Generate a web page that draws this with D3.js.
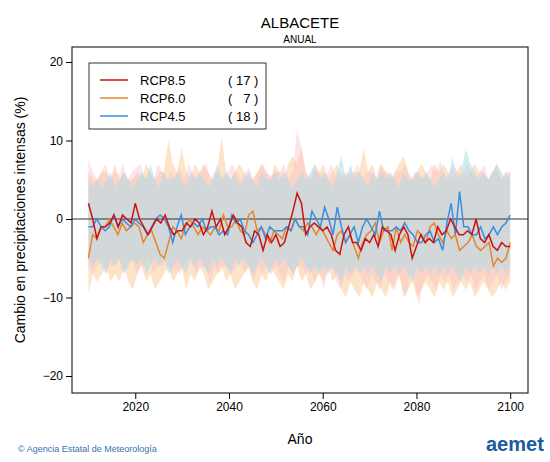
<!DOCTYPE html><html><head><meta charset="utf-8"><script src="https://cdn.jsdelivr.net/npm/d3@7"></script>
<style>body{margin:0;background:#fff}text{font-family:"Liberation Sans",Arial,sans-serif}</style></head><body><svg id="c" width="550" height="462"></svg><script>
const startYear=2010;
const rcp85=[2,0,-2.5,-1,-1,-0.5,0.5,-1,0.5,0,-0.5,2,0,-1,-2,-1,0,-0.5,0.5,-1,-2,-1.5,-1.5,-0.5,-1,0,-0.5,-2,-1,1,-1,0,-2,-1,0.5,-0.5,-1,-3,-3.5,-1.5,-2,-4,-2,-3,-2,-3.5,-3,-1,1,3.3,2,-2,-1,-0.5,-1,-1.5,-1,-2,-4,-4.5,-2,-1,-3,-3,-4,-2.5,-3,-2,-3.5,-1,-1.5,-2,-4,-2,-1,-2,-5,-3.5,-2,-3,-2.5,-3,-1,-2,-1.5,0,-1,-2,-2,-1.5,-2,0,-2.5,-3,-2,-3.5,-4,-3,-3.5,-3.5];
const rcp60=[-5,-2,-2.5,-1,-1,0,-1,-2,-0.5,-1.5,-1,-0.5,-1,-3,-2,-1.5,-3,-4.5,-5,-3,-1,-1.5,-2.5,-1,0,-1,-2,-1,-1.5,-2,-1,-1.5,0.5,-1,-1,0,-1.5,-2,0.5,1,-1.5,-1,-2,-3,-1.5,-2,-2.5,-1,-1.5,0,-1,-1.5,-0.5,-1,-2,-1,-2,-3,-4,-2,-1.5,-3,-2,-3.5,-5,-3,-2,-1.5,-0.5,-3,-1.5,-1,-4,-1,-3,-2,-3,-3.5,-1.5,-2,-3,-1,-0.5,-2,-3,-1.5,-2.5,-2,-4,-3.5,-3,-2,-3.5,-4,-3.5,-3,-6,-5,-5.5,-5,-3];
const rcp45=[-1,-1,0,-1,-1.5,-1,0.5,-1,0,-0.5,-1,0,-0.5,-1,-2,-1,0,0.5,0,-1,-3,-1,0.5,-2,-1,-0.5,-1,0,-1.5,-1,-1,-2,-1.5,-2,0.5,-0.5,0,-1.5,-2,-3,-2,-1,-2.5,-1,-1.5,-1.5,-1.5,-1,-1.5,0,-1,-1,-2,1,0,-1,1.5,0,-2,1.5,-1,-3,-2,-1,-3,-1,0,-1,-2,1,-1.5,-1.5,-1.5,-1,-1.5,-0.5,-1.5,-2,-3,-3,-2,-1.5,-3,-2.5,-4,-0.5,2,-2,3.5,-1,-1,-2,-2,-1,-2.5,-2,-1,-2,-1,-0.5,0.5];
const up85=[7.5,6,5,6,7,5,6,5.5,7,5,6,6.5,7,5,6,5,7,6,5,6,5,6.5,5,7,6,5,6,7,5,6,6,5,6,7,6,5,6,6.5,5,6,7,6,5.5,6,6,7,5,6,11.5,9,6,5,6,6,5,6,7,5,6,5.5,6,6,7,5,6,6,5,7,6,6,5,6,6,7,5,6,6,5,6,7,6,7.5,5,6,7,6,5,7,6,5,6,7,5,6,6,5,6,6];
const lo85=[-6,-7,-6,-5,-7,-6,-6,-5,-7,-6,-5,-7,-6,-6,-5,-7,-6,-6,-5,-7,-6,-7,-6,-5,-6,-7,-6,-6,-8,-6,-7,-6,-6,-7,-6,-5,-7,-6,-8,-6,-7,-6,-7,-6,-7,-8,-6,-7,-6,-6,-7,-6,-8,-6,-9,-7,-6,-8,-9,-7,-8,-7,-6,-8,-9,-7,-8,-9,-7,-8,-9,-7,-8,-10,-7,-8,-11,-8,-7,-8,-9,-7,-8,-7,-9,-8,-7,-8,-7,-9,-8,-7,-9,-8,-7,-9,-8,-7,-8,-7,-8];
const up60=[6,5,5,6,6,5,7,5,6,5,5,6,5,7,6,5,6,6,10,7,6,9,6,5,7,6,7,6,5,6,10.5,6,5,6,7,6,5,5,6,7,6,5,7,6,5,7,8,7,9,6,5,7,6,7,5,6,7,5,6,5,6,6,9,6,7,5,7,6,5,6,7,8,6,5,6,7,6,5,7,6,7,6,5,6,7,5,6,7,6,6,5,6,7,5,6,5,6];
const lo60=[-9.5,-7,-8,-7,-6,-8,-7,-8,-6,-8,-9,-7,-6,-8,-7,-9,-8,-7,-6,-8,-7,-6,-9,-7,-8,-6,-7,-9,-8,-7,-6,-8,-7,-9,-8,-7,-6,-8,-9,-7,-8,-6,-7,-8,-9,-7,-8,-6,-8,-7,-9,-8,-7,-8,-6,-8,-7,-9,-10,-8,-9,-10,-8,-9,-10,-8,-9,-10,-8,-9,-7,-10,-9,-8,-10,-9,-8,-9,-10,-8,-9,-8,-10,-9,-8,-9,-8,-10,-9,-8,-9,-10,-9,-8,-9,-8];
const up45=[5,4,5,4,5,6,4,5,6,5,4,5,6,5,7,5,4,6,5,5,6,5,4,6,5,6,5,4,5,7,5,6,5,6,4,5,6,5,4,6,5,5,6,5,6,5,4,5,6,5,6,7,5,6,5,4,6,8,5,7,5,6,5,4,6,5,6,5,6,5,4,6,5,5,6,5,6,5,4,5,6,5,8,5,6,9,7,6,5,6,5,6,7,6,5,6];
const lo45=[-5,-6,-5,-6,-7,-5,-6,-5,-7,-6,-5,-6,-5,-7,-6,-5,-6,-5,-7,-6,-5,-6,-7,-5,-6,-5,-6,-7,-5,-6,-5,-6,-7,-5,-6,-5,-6,-7,-6,-5,-6,-7,-5,-6,-5,-6,-7,-6,-5,-6,-7,-6,-7,-6,-7,-6,-7,-8,-6,-7,-6,-7,-6,-7,-6,-7,-8,-6,-7,-6,-7,-6,-7,-8,-6,-7,-6,-7,-6,-7,-6,-7,-6,-7,-8,-6,-7,-6,-7,-6,-7,-6,-7,-6,-7,-6];
const xTicks=[2020,2040,2060,2080,2100], yTicks=[-20,-10,0,10,20];
const legend=[["RCP8.5","( 17 )","#cc1111"],["RCP6.0","(   7 )","#e8852c"],["RCP4.5","( 18 )","#3a8ee0"]];
const svg=d3.select("#c");
const L=72,R=528,T=47,B=393;
const x=d3.scaleLinear().domain([2006.5,2103.8]).range([L,R]);
const y=d3.scaleLinear().domain([-20,20]).range([376,62]);
const band=(u,l,c,o)=>{const n=Math.min(u.length,l.length);const d=d3.range(n).map(i=>[startYear+i*(90/(n-1)),u[i],l[i]]);
svg.append("path").attr("d",d3.area().x(d=>x(d[0])).y0(d=>y(d[2])).y1(d=>y(d[1]))(d)).attr("fill",c).attr("fill-opacity",o);};
band(up60,lo60,"#fcc890",0.5);band(up85,lo85,"#f7bcc8",0.4);band(up45,lo45,"#b0dbe8",0.55);
svg.append("line").attr("x1",L).attr("x2",R).attr("y1",y(0)).attr("y2",y(0)).attr("stroke","#333");
const line=(v,c)=>svg.append("path").attr("d",d3.line().x((d,i)=>x(startYear+i*(90/(v.length-1)))).y(d=>y(d))(v)).attr("fill","none").attr("stroke",c).attr("stroke-width",1.5);
line(rcp60,"#e8852c");line(rcp45,"#3a8ee0");line(rcp85,"#cc1111");
svg.append("rect").attr("x",L).attr("y",T).attr("width",R-L).attr("height",B-T).attr("fill","none").attr("stroke","#000");
svg.append("g").attr("transform",`translate(0,${B})`).call(d3.axisBottom(x).tickValues(xTicks).tickFormat(d3.format("d")).tickSizeOuter(0)).call(g=>g.select(".domain").remove()).selectAll("text").attr("font-size",12);
svg.append("g").attr("transform",`translate(${L},0)`).call(d3.axisLeft(y).tickValues(yTicks).tickSizeOuter(0)).call(g=>g.select(".domain").remove()).selectAll("text").attr("font-size",12);
svg.append("text").attr("x",300).attr("y",28).attr("text-anchor","middle").attr("font-size",15).text("ALBACETE");
svg.append("text").attr("x",300).attr("y",43).attr("text-anchor","middle").attr("font-size",10).text("ANUAL");
svg.append("text").attr("x",300).attr("y",444).attr("text-anchor","middle").attr("font-size",14).text("Año");
svg.append("text").attr("transform","translate(25,220) rotate(-90)").attr("text-anchor","middle").attr("font-size",14).text("Cambio en precipitaciones intensas (%)");
svg.append("rect").attr("x",89).attr("y",63).attr("width",177).attr("height",66).attr("fill","#fff").attr("stroke","#333");
legend.forEach((d,i)=>{const yy=80+i*18;svg.append("line").attr("x1",100).attr("x2",128).attr("y1",yy).attr("y2",yy).attr("stroke",d[2]).attr("stroke-width",1.5);
svg.append("text").attr("x",140).attr("y",yy+5).attr("font-size",13).text(d[0]);
svg.append("text").attr("x",228).attr("y",yy+5).attr("font-size",13).style("white-space","pre").text(d[1]);});
svg.append("text").attr("x",18).attr("y",452).attr("font-size",9).attr("fill","#3a6fb0").text("© Agencia Estatal de Meteorología");
svg.append("text").attr("x",486).attr("y",451).attr("font-size",20).attr("font-weight","bold").attr("fill","#1b5aa0").text("aemet");
</script></body></html>
